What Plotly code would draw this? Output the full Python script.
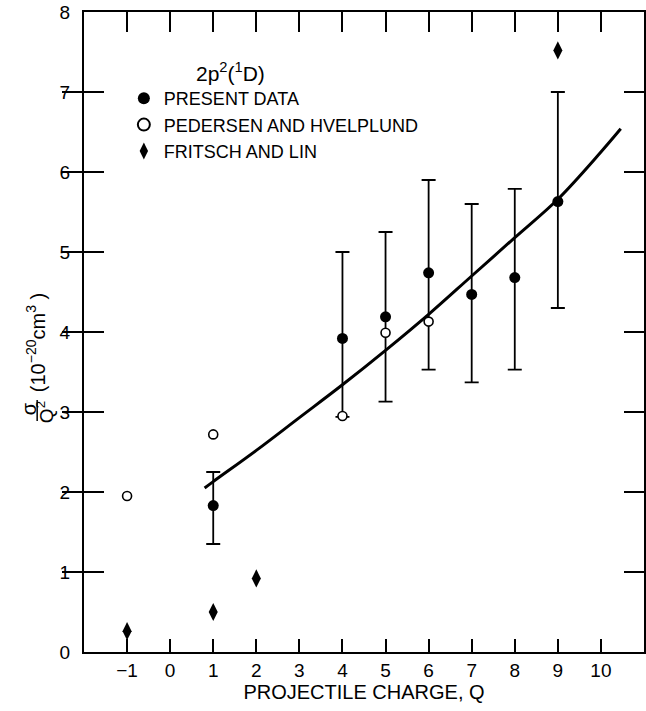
import plotly.graph_objects as go

# Present data (filled circles with error bars)
q_present = [1, 4, 5, 6, 7, 8, 9]
y_present = [1.83, 3.92, 4.19, 4.74, 4.47, 4.68, 5.63]
err_plus = [0.42, 1.08, 1.06, 1.16, 1.13, 1.11, 1.37]
err_minus = [0.48, 0.98, 1.06, 1.21, 1.10, 1.15, 1.33]

# Pedersen and Hvelplund (open circles)
q_ped = [-1, 1, 4, 5, 6]
y_ped = [1.95, 2.72, 2.95, 3.99, 4.13]

# Fritsch and Lin (diamonds)
q_fl = [-1, 1, 2, 9]
y_fl = [0.26, 0.50, 0.92, 7.52]

# Theory curve
q_curve = [0.8, 1, 2, 3, 4, 5, 6, 7, 8, 9, 10, 10.46]
y_curve = [2.05, 2.13, 2.52, 2.93, 3.34, 3.77, 4.22, 4.70, 5.18, 5.66, 6.25, 6.54]

x_ticks = list(range(-1, 11))
y_ticks = list(range(0, 9))

FONT = "Liberation Sans, Arial, Helvetica, sans-serif"
L, T, B, R = 84, 12, 59, 0
W, H = 646, 711
PW, PH = W - L - R, H - T - B


def px(x):
    return (x - L) / PW


def py(y):
    return (H - B - y) / PH


fig = go.Figure()

fig.add_trace(go.Scatter(
    x=q_curve, y=y_curve, mode="lines", line=dict(color="black", width=3, shape="spline"),
    showlegend=False, hoverinfo="skip"))

fig.add_trace(go.Scatter(
    x=q_present, y=y_present, mode="markers", name="PRESENT DATA",
    marker=dict(symbol="circle", size=11, color="black"),
    error_y=dict(type="data", symmetric=False, array=err_plus, arrayminus=err_minus,
                 color="black", thickness=1.8, width=7)))

fig.add_trace(go.Scatter(
    x=q_ped, y=y_ped, mode="markers", name="PEDERSEN AND HVELPLUND",
    marker=dict(symbol="circle", size=9, color="white", line=dict(color="black", width=1.6))))

fig.add_trace(go.Scatter(
    x=q_fl, y=y_fl, mode="markers", name="FRITSCH AND LIN",
    marker=dict(symbol="diamond-tall", size=13, color="black")))

# empty trace so the top axis is drawn
fig.add_trace(go.Scatter(x=[], y=[], xaxis="x2", showlegend=False))

fig.update_layout(
    width=W, height=H,
    margin=dict(l=L, r=R, t=T, b=B),
    plot_bgcolor="white", paper_bgcolor="white",
    font=dict(family=FONT, color="black", size=18),
    xaxis=dict(range=[-2, 11], tickvals=x_ticks, ticktext=["−1"] + [str(v) for v in x_ticks[1:]],
               ticks="inside", ticklen=13, tickwidth=2, tickcolor="black",
               showline=True, linewidth=2, linecolor="black", showgrid=False, zeroline=False,
               tickfont=dict(size=19), title=dict(text="PROJECTILE CHARGE, Q", font=dict(size=20), standoff=2)),
    xaxis2=dict(range=[-2, 11], overlaying="x", side="top", tickvals=x_ticks, showticklabels=False,
                ticks="inside", ticklen=20, tickwidth=2, tickcolor="black",
                showline=True, linewidth=2, linecolor="black", showgrid=False, zeroline=False),
    yaxis=dict(range=[0, 8], tickvals=y_ticks, ticks="inside", ticklen=20, tickwidth=2, tickcolor="black",
               mirror="allticks", showline=True, linewidth=2, linecolor="black", showgrid=False,
               zeroline=False, tickfont=dict(size=19), ticklabelstandoff=8),
    legend=dict(x=px(124), y=py(80), xanchor="left", yanchor="top", bgcolor="rgba(0,0,0,0)",
                font=dict(size=18), itemsizing="constant", tracegroupgap=0),
    showlegend=True,
)

ann = dict(xref="paper", yref="paper", showarrow=False)
fig.add_annotation(text="2p<sup>2</sup>(<sup>1</sup>D)", x=px(231), y=py(72), xanchor="center", yanchor="middle",
                   font=dict(size=21, family=FONT), **ann)
fig.add_annotation(text="σ", x=px(29), y=py(409), xanchor="center", yanchor="middle", textangle=-90,
                   font=dict(size=20, family=FONT), **ann)
fig.add_annotation(text="Q<sup>2</sup>", x=px(45), y=py(412), xanchor="center", yanchor="middle", textangle=-90,
                   font=dict(size=19, family=FONT), **ann)
fig.add_annotation(text="(10<sup>−20</sup>cm<sup>3</sup> )", x=px(35), y=py(343), xanchor="center", yanchor="middle",
                   textangle=-90, font=dict(size=20, family=FONT), **ann)
fig.add_shape(type="line", xref="paper", yref="paper", x0=px(37), x1=px(37), y0=py(400), y1=py(421),
              line=dict(color="black", width=1.5))

fig.write_html("out.html", config={"displayModeBar": False},
               post_script="document.body.style.margin='0px';")
